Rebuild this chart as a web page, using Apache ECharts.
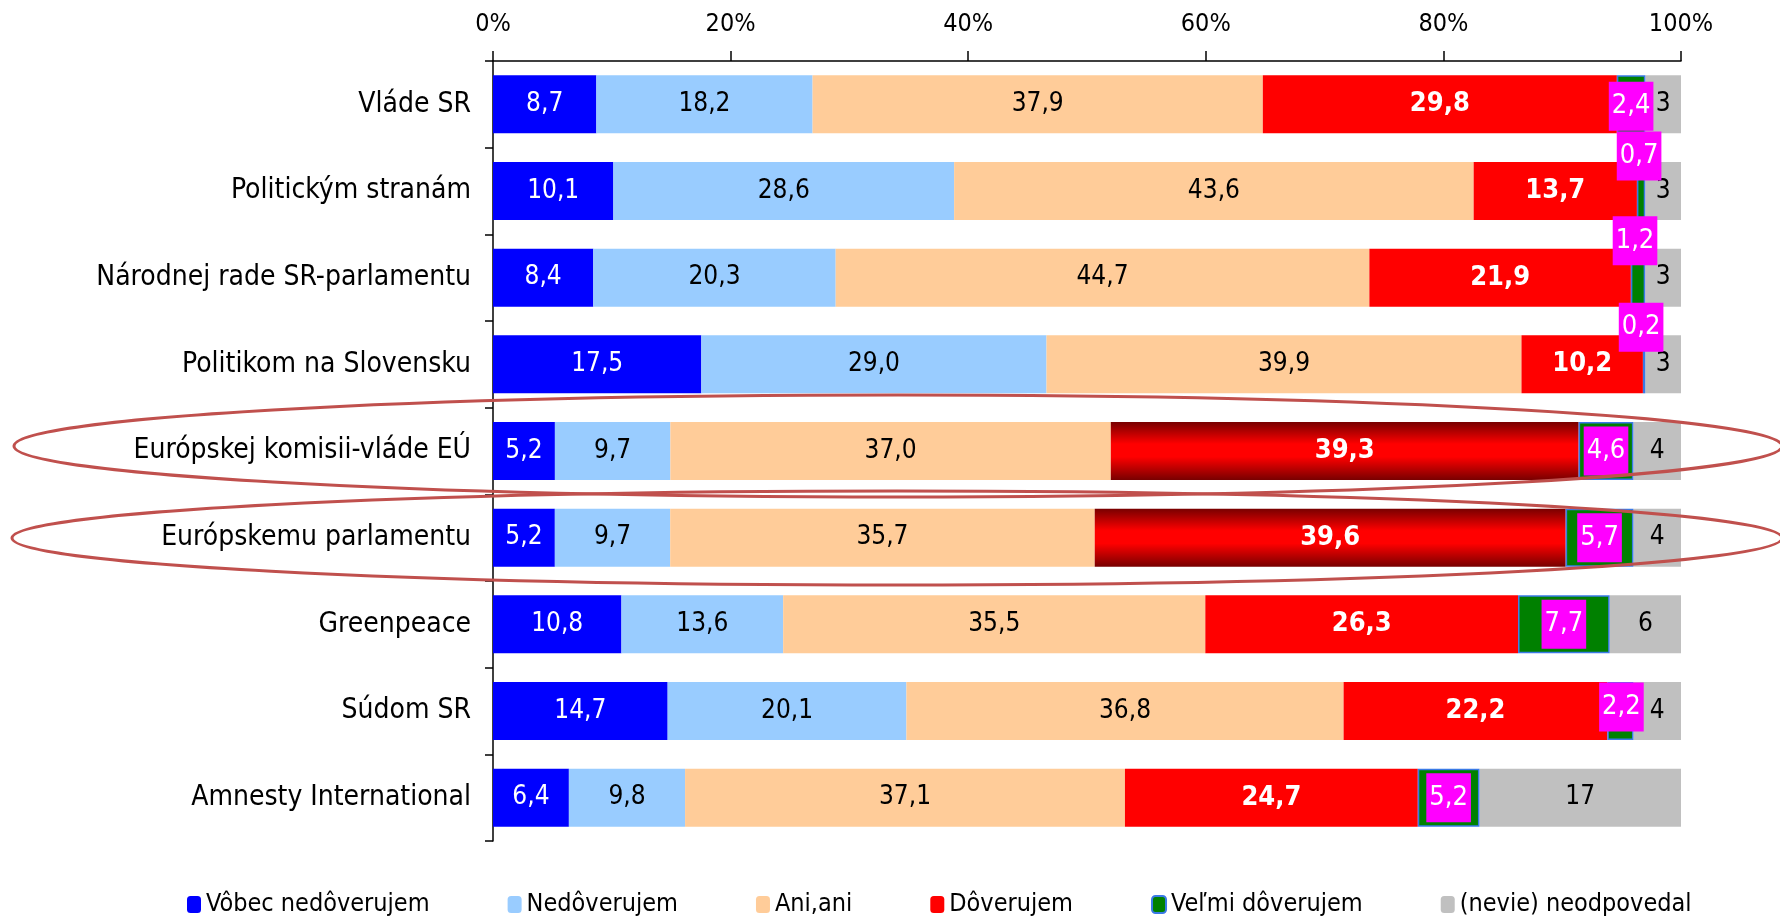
<!DOCTYPE html>
<html>
<head>
<meta charset="utf-8">
<script src="https://cdn.jsdelivr.net/npm/echarts@6/dist/echarts.min.js"></script>
<style>
  html, body { margin: 0; padding: 0; background: #ffffff; }
  #chart { width: 1780px; height: 916px; }
</style>
</head>
<body>
<div id="chart"></div>
<script>
// ---- data ----
const categories = [
  'Vláde SR',
  'Politickým stranám',
  'Národnej rade SR-parlamentu',
  'Politikom na Slovensku',
  'Európskej komisii-vláde EÚ',
  'Európskemu parlamentu',
  'Greenpeace',
  'Súdom SR',
  'Amnesty International'
];
const seriesNames = ['Vôbec nedôverujem', 'Nedôverujem', 'Ani,ani', 'Dôverujem', 'Veľmi dôverujem', '(nevie) neodpovedal'];
const vobecNedoverujem = [8.7, 10.1, 8.4, 17.5, 5.2, 5.2, 10.8, 14.7, 6.4];
const nedoverujem      = [18.2, 28.6, 20.3, 29.0, 9.7, 9.7, 13.6, 20.1, 9.8];
const aniAni           = [37.9, 43.6, 44.7, 39.9, 37.0, 35.7, 35.5, 36.8, 37.1];
const doverujem        = [29.8, 13.7, 21.9, 10.2, 39.3, 39.6, 26.3, 22.2, 24.7];
const velmiDoverujem   = [2.4, 0.7, 1.2, 0.2, 4.6, 5.7, 7.7, 2.2, 5.2];
const nevie            = [3, 3, 3, 3, 4, 4, 6, 4, 17];
const xTickLabels = ['0%', '20%', '40%', '60%', '80%', '100%'];

// ---- styling config (not data) ----
const FONT = "'DejaVu Sans Condensed', 'DejaVu Sans', sans-serif";
const highlightedRows = [4, 5];
const greenLabelOffsets = { 0: [0, 2], 1: [-2, -35], 2: [-3, -37], 3: [-3, -37], 7: [1, -4] };

const raw = [vobecNedoverujem, nedoverujem, aniAni, doverujem, velmiDoverujem, nevie];
const totals = categories.map((_, i) => raw.reduce((s, arr) => s + arr[i], 0));
const colors = ['#0000ff', '#99ccff', '#ffcc99', '#ff0000', '#008000', '#c0c0c0'];
const labelColors = ['#ffffff', '#000000', '#000000', '#ffffff', '#ffffff', '#000000'];
const decimals = [1, 1, 1, 1, 1, 0];

function fmt(v, d) { return v.toFixed(d).replace('.', ','); }

const redGradient = {
  type: 'linear', x: 0, y: 0, x2: 0, y2: 1,
  colorStops: [
    { offset: 0, color: '#780000' },
    { offset: 0.38, color: '#ff0000' },
    { offset: 0.6, color: '#ff0000' },
    { offset: 1, color: '#780000' }
  ]
};

const series = raw.map((arr, si) => {
  const data = arr.map((v, i) => {
    const item = { value: v / totals[i] * 100, raw: v };
    if (si === 3 && highlightedRows.includes(i)) {
      item.itemStyle = { color: redGradient };
    }
    if (si === 4 && greenLabelOffsets[i]) {
      item.label = { offset: greenLabelOffsets[i] };
    }
    return item;
  });
  const s = {
    name: seriesNames[si],
    type: 'bar',
    stack: 'total',
    barWidth: 58,
    data: data,
    itemStyle: { color: colors[si] },
    label: {
      show: true,
      position: 'inside',
      color: labelColors[si],
      fontFamily: FONT,
      fontSize: 26,
      fontWeight: si === 3 ? 'bold' : 'normal',
      formatter: p => fmt(p.data.raw, decimals[si])
    },
    emphasis: { disabled: true },
    animation: false
  };
  if (si === 3) s.label.fontSize = 27;
  if (si === 4) {
    s.itemStyle = { color: colors[si], borderColor: '#3a7ae6', borderWidth: 1.5 };
    s.label.backgroundColor = '#ff00ff';
    s.label.fontSize = 27;
    s.label.padding = [12, 3, 10, 3];
    s.z = 3;
  }
  return s;
});

const chart = echarts.init(document.getElementById('chart'), null, { renderer: 'canvas' });
chart.setOption({
  backgroundColor: '#ffffff',
  animation: false,
  textStyle: { fontFamily: FONT, color: '#000' },
  grid: { left: 493, right: 99, top: 61, bottom: 75, containLabel: false },
  xAxis: {
    type: 'value',
    position: 'top',
    min: 0,
    max: 100,
    interval: 20,
    axisLine: { show: true, lineStyle: { color: '#000', width: 1.5 } },
    axisTick: { show: true, length: 10, lineStyle: { color: '#000', width: 1.5 } },
    splitLine: { show: false },
    axisLabel: {
      color: '#000', fontFamily: FONT, fontSize: 25, margin: 24,
      formatter: v => xTickLabels[Math.round(v / 20)]
    }
  },
  yAxis: {
    type: 'category',
    data: categories,
    inverse: true,
    axisLine: { show: true, lineStyle: { color: '#000', width: 1.5 } },
    axisTick: { show: true, length: 8, lineStyle: { color: '#000', width: 1.5 } },
    axisLabel: { color: '#000', fontFamily: FONT, fontSize: 28, margin: 22 }
  },
  legend: {
    data: seriesNames,
    left: 182,
    top: 887,
    itemWidth: 14,
    itemHeight: 17,
    itemGap: 78,
    itemTextGap: 4,
    textStyle: { color: '#000', fontFamily: FONT, fontSize: 25 },
    selectedMode: false
  },
  series: series,
  graphic: [
    {
      type: 'ellipse',
      shape: { cx: 898, cy: 446, rx: 884, ry: 51 },
      style: { fill: 'none', stroke: '#c0504d', lineWidth: 3 },
      z: 100, silent: true
    },
    {
      type: 'ellipse',
      shape: { cx: 897, cy: 538, rx: 885, ry: 47 },
      style: { fill: 'none', stroke: '#c0504d', lineWidth: 3 },
      z: 100, silent: true
    }
  ]
});
</script>
</body>
</html>
